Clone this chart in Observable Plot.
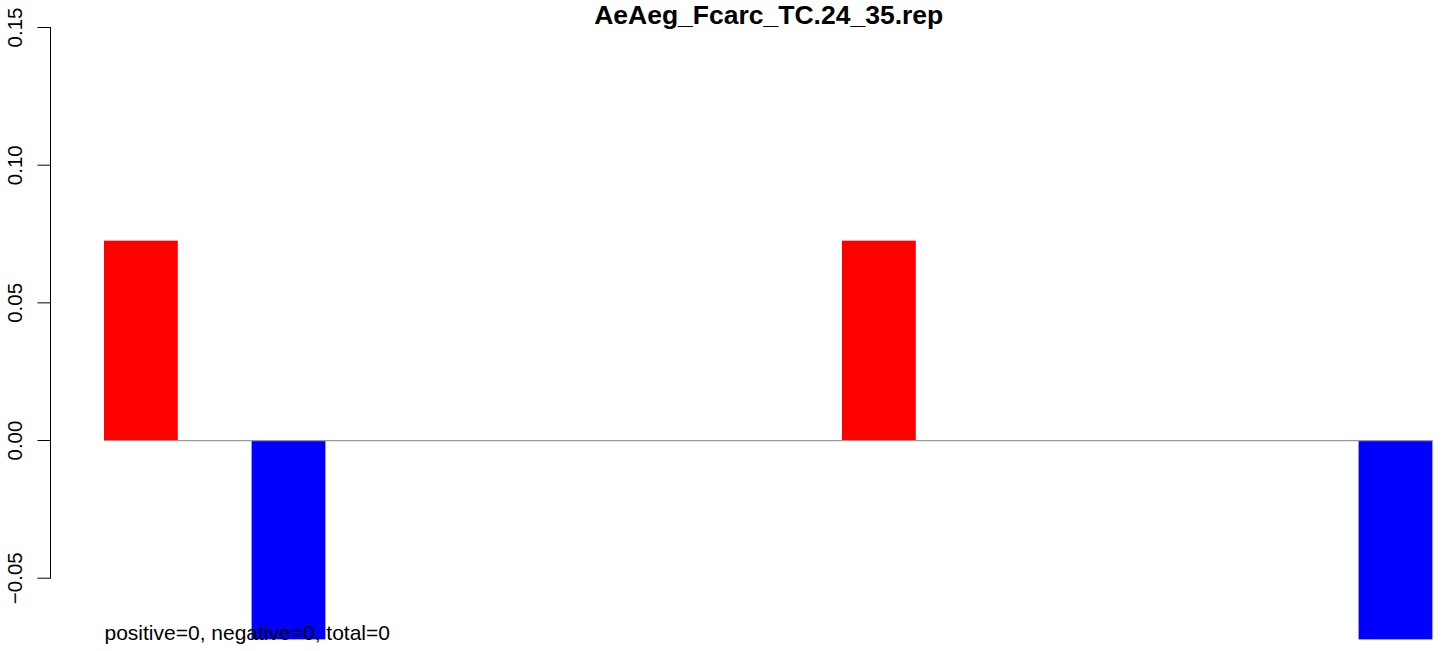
<!DOCTYPE html>
<html>
<head>
<meta charset="utf-8">
<script src="https://cdn.jsdelivr.net/npm/d3@7"></script>
<script src="https://cdn.jsdelivr.net/npm/@observablehq/plot@0.6"></script>
<style>
  html, body { margin: 0; padding: 0; background: #fff; overflow: hidden; }
  svg { display: block; }
</style>
</head>
<body>
<div id="chart"></div>
<script>
// ---- data ----
const title = "AeAeg_Fcarc_TC.24_35.rep";
const barPositions = [0, 2, 10, 17];            // left edge, in bar-width units
const barValues = [0.0724, -0.0724, 0.0724, -0.0724];
const barSigns = ["positive", "negative", "positive", "negative"];
const signColors = ["red", "blue"];
const yTicks = [-0.05, 0, 0.05, 0.10, 0.15];
const yTickLabels = ["\u22120.05", "0.00", "0.05", "0.10", "0.15"];
const xExtent = [0, 18];
const footnote = "positive=0, negative=0, total=0";

const bars = barPositions.map((p, i) => ({x1: p, x2: p + 1, value: barValues[i], sign: barSigns[i]}));
const ticks = yTicks.map((v, i) => ({v, label: yTickLabels[i]}));

const W = 1444, H = 651;
const chart = Plot.plot({
  width: W,
  height: H,
  marginTop: 27,
  marginBottom: 73.3,
  marginLeft: 50,
  marginRight: 59,
  style: {fontFamily: "'Liberation Sans', Arial, Helvetica, sans-serif", background: "#fff", overflow: "visible"},
  x: {domain: xExtent, range: [104, 1432.4], axis: null},
  y: {domain: [-0.05, 0.15], axis: null},
  color: {domain: ["positive", "negative"], range: signColors},
  marks: [
    Plot.frame({anchor: "left", stroke: "#000", strokeWidth: 1}),
    Plot.axisY({ticks: yTicks, tickSize: 12.5, tickFormat: () => "", stroke: "#000", strokeWidth: 1}),
    Plot.text(ticks, {y: "v", text: "label", frameAnchor: "left", dx: -35, rotate: -90,
      textAnchor: "middle", lineAnchor: "middle", fontSize: 20.5, fill: "#000"}),
    Plot.rectY(bars, {x1: "x1", x2: "x2", y: "value", fill: "sign"}),
    Plot.ruleY([0], {x1: xExtent[0], x2: xExtent[1], stroke: "#999", strokeWidth: 1.2}),
    Plot.text([footnote], {x: xExtent[0], frameAnchor: "bottom", dy: 62, textAnchor: "start",
      lineAnchor: "bottom", fontSize: 21, fill: "#000"}),
    Plot.text([title], {x: (xExtent[0] + xExtent[1]) / 2, frameAnchor: "top", dy: -4, textAnchor: "middle",
      lineAnchor: "bottom", fontSize: 26.5, fontWeight: "bold", fill: "#000"})
  ]
});
document.getElementById("chart").appendChild(chart);
</script>
</body>
</html>
